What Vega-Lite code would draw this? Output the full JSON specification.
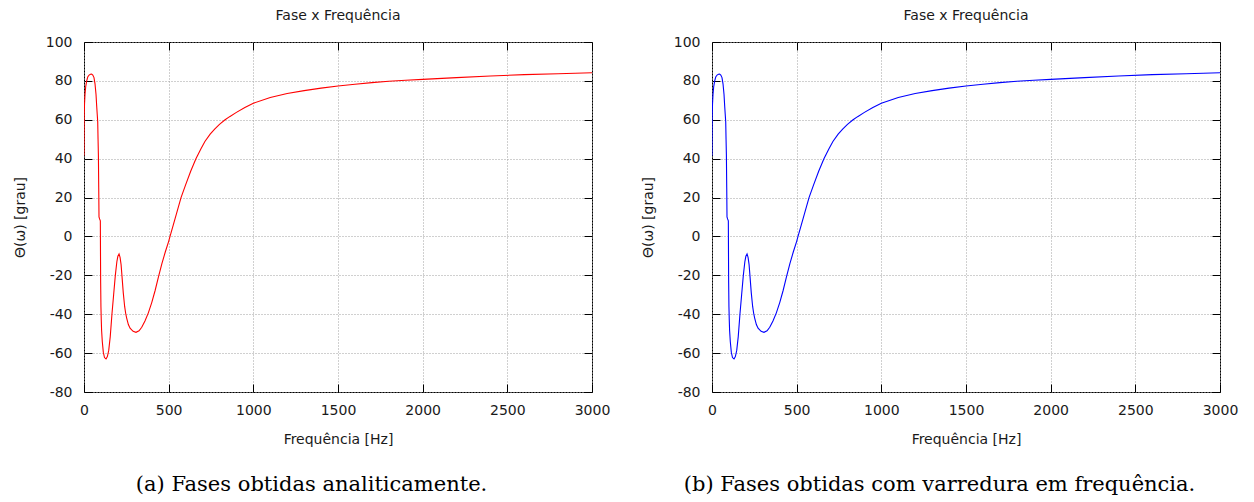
{
  "$schema": "https://vega.github.io/schema/vega-lite/v6.json",
  "padding": {"left": 12, "top": 8, "right": 0, "bottom": 0},
  "background": "white",
  "data": {"values": [
    {"f": 0, "theta": 41.5}, {"f": 0.5, "theta": 52}, {"f": 1, "theta": 61}, {"f": 3, "theta": 68},
    {"f": 6, "theta": 73}, {"f": 10, "theta": 77}, {"f": 16, "theta": 80}, {"f": 22, "theta": 82},
    {"f": 30, "theta": 83}, {"f": 38, "theta": 83.4}, {"f": 45, "theta": 83.5}, {"f": 52, "theta": 83},
    {"f": 59, "theta": 81.7}, {"f": 65, "theta": 78.5}, {"f": 71, "theta": 73}, {"f": 75, "theta": 67},
    {"f": 78, "theta": 63}, {"f": 81, "theta": 59}, {"f": 83, "theta": 50}, {"f": 85, "theta": 42},
    {"f": 87, "theta": 25}, {"f": 88.6, "theta": 10}, {"f": 92, "theta": 9}, {"f": 96.5, "theta": 8},
    {"f": 97.5, "theta": -10}, {"f": 98.4, "theta": -24}, {"f": 100, "theta": -36}, {"f": 102, "theta": -43},
    {"f": 104, "theta": -48.4}, {"f": 108, "theta": -54}, {"f": 114, "theta": -59.5}, {"f": 121, "theta": -62.3},
    {"f": 130, "theta": -63}, {"f": 138, "theta": -61.8}, {"f": 146, "theta": -58.6}, {"f": 155, "theta": -51.5},
    {"f": 165, "theta": -40}, {"f": 175, "theta": -30}, {"f": 185, "theta": -20}, {"f": 194, "theta": -13},
    {"f": 200, "theta": -10.2}, {"f": 207, "theta": -9}, {"f": 213, "theta": -10.8}, {"f": 219, "theta": -14.5},
    {"f": 224, "theta": -20}, {"f": 232, "theta": -29}, {"f": 240, "theta": -36}, {"f": 246, "theta": -39.5},
    {"f": 252, "theta": -42}, {"f": 262, "theta": -45.3}, {"f": 272, "theta": -47.2}, {"f": 290, "theta": -48.8},
    {"f": 307, "theta": -49.3}, {"f": 325, "theta": -48.5}, {"f": 341, "theta": -46.7}, {"f": 360, "theta": -43.5},
    {"f": 380, "theta": -39.3}, {"f": 400, "theta": -34}, {"f": 420, "theta": -27.8}, {"f": 439, "theta": -21},
    {"f": 460, "theta": -14}, {"f": 480, "theta": -8}, {"f": 500, "theta": -2.5}, {"f": 508, "theta": 0},
    {"f": 527, "theta": 5.8}, {"f": 545, "theta": 11.3}, {"f": 573, "theta": 20}, {"f": 600, "theta": 26.5},
    {"f": 630, "theta": 33.5}, {"f": 661, "theta": 40}, {"f": 690, "theta": 45}, {"f": 714, "theta": 48.8},
    {"f": 745, "theta": 52.6}, {"f": 773, "theta": 55.3}, {"f": 800, "theta": 57.6}, {"f": 833, "theta": 60},
    {"f": 860, "theta": 61.6}, {"f": 900, "theta": 63.8}, {"f": 950, "theta": 66.3}, {"f": 1000, "theta": 68.5},
    {"f": 1100, "theta": 71.5}, {"f": 1200, "theta": 73.5}, {"f": 1300, "theta": 75}, {"f": 1400, "theta": 76.3},
    {"f": 1500, "theta": 77.4}, {"f": 1600, "theta": 78.3}, {"f": 1700, "theta": 79.1}, {"f": 1800, "theta": 79.8},
    {"f": 1900, "theta": 80.3}, {"f": 2000, "theta": 80.8}, {"f": 2200, "theta": 81.7}, {"f": 2400, "theta": 82.5},
    {"f": 2600, "theta": 83.2}, {"f": 2800, "theta": 83.7}, {"f": 3000, "theta": 84.2}
  ]},
  "config": {
    "view": {"stroke": "#000000", "strokeWidth": 1},
    "axis": {
      "labelFont": "DejaVu Sans", "labelFontSize": 14, "labelColor": "#1a1a1a",
      "titleFont": "DejaVu Sans", "titleFontSize": 14, "titleFontWeight": "normal", "titleColor": "#1a1a1a",
      "domain": false, "tickColor": "#000000", "tickSize": -8, "tickWidth": 1,
      "gridColor": "#a0a0a0", "gridDash": [1, 2], "gridWidth": 1,
      "labelFlush": false, "labelOverlap": false
    },
    "title": {"font": "DejaVu Sans", "fontSize": 14, "fontWeight": "normal", "color": "#1a1a1a"}
  },
  "spacing": 29,
  "hconcat": [
    {
      "title": {"text": "(a) Fases obtidas analiticamente.", "orient": "bottom", "anchor": "middle", "font": "DejaVu Serif", "fontSize": 21, "fontWeight": "normal", "color": "#000000", "offset": 27},
      "vconcat": [
        {
          "title": {"text": "Fase x Frequência", "frame": "group", "offset": 12},
          "width": 508, "height": 350,
          "layer": [
            {
              "mark": {"type": "line", "color": "#ff0000", "strokeWidth": 1.1, "clip": true},
              "encoding": {
                "x": {"field": "f", "type": "quantitative", "scale": {"domain": [0, 3000], "nice": false, "zero": false},
                      "axis": {"orient": "bottom", "values": [0, 500, 1000, 1500, 2000, 2500, 3000], "labelExpr": "'' + datum.value", "title": "Frequência [Hz]", "grid": true, "labelPadding": 19.5, "titlePadding": 15}},
                "y": {"field": "theta", "type": "quantitative", "scale": {"domain": [-80, 100], "nice": false, "zero": false},
                      "axis": {"orient": "left", "values": [-80, -60, -40, -20, 0, 20, 40, 60, 80, 100], "labelExpr": "'' + datum.value", "title": "Θ(ω) [grau]", "grid": true, "labelPadding": 20, "titlePadding": 18}}
              }
            },
            {
              "mark": {"type": "line", "strokeOpacity": 0},
              "encoding": {
                "x": {"field": "f", "type": "quantitative", "axis": {"orient": "top", "values": [0, 500, 1000, 1500, 2000, 2500, 3000], "labels": false, "title": null, "grid": false}},
                "y": {"field": "theta", "type": "quantitative", "axis": {"orient": "right", "values": [-80, -60, -40, -20, 0, 20, 40, 60, 80, 100], "labels": false, "title": null, "grid": false}}
              }
            }
          ],
          "resolve": {"axis": {"x": "independent", "y": "independent"}}
        }
      ]
    },
    {
      "title": {"text": "(b) Fases obtidas com varredura em frequência.", "orient": "bottom", "anchor": "middle", "font": "DejaVu Serif", "fontSize": 21, "fontWeight": "normal", "color": "#000000", "offset": 27},
      "vconcat": [
        {
          "title": {"text": "Fase x Frequência", "frame": "group", "offset": 12},
          "width": 508, "height": 350,
          "layer": [
            {
              "mark": {"type": "line", "color": "#0000ff", "strokeWidth": 1.1, "clip": true},
              "encoding": {
                "x": {"field": "f", "type": "quantitative", "scale": {"domain": [0, 3000], "nice": false, "zero": false},
                      "axis": {"orient": "bottom", "values": [0, 500, 1000, 1500, 2000, 2500, 3000], "labelExpr": "'' + datum.value", "title": "Frequência [Hz]", "grid": true, "labelPadding": 19.5, "titlePadding": 15}},
                "y": {"field": "theta", "type": "quantitative", "scale": {"domain": [-80, 100], "nice": false, "zero": false},
                      "axis": {"orient": "left", "values": [-80, -60, -40, -20, 0, 20, 40, 60, 80, 100], "labelExpr": "'' + datum.value", "title": "Θ(ω) [grau]", "grid": true, "labelPadding": 20, "titlePadding": 18}}
              }
            },
            {
              "mark": {"type": "line", "strokeOpacity": 0},
              "encoding": {
                "x": {"field": "f", "type": "quantitative", "axis": {"orient": "top", "values": [0, 500, 1000, 1500, 2000, 2500, 3000], "labels": false, "title": null, "grid": false}},
                "y": {"field": "theta", "type": "quantitative", "axis": {"orient": "right", "values": [-80, -60, -40, -20, 0, 20, 40, 60, 80, 100], "labels": false, "title": null, "grid": false}}
              }
            }
          ],
          "resolve": {"axis": {"x": "independent", "y": "independent"}}
        }
      ]
    }
  ]
}
